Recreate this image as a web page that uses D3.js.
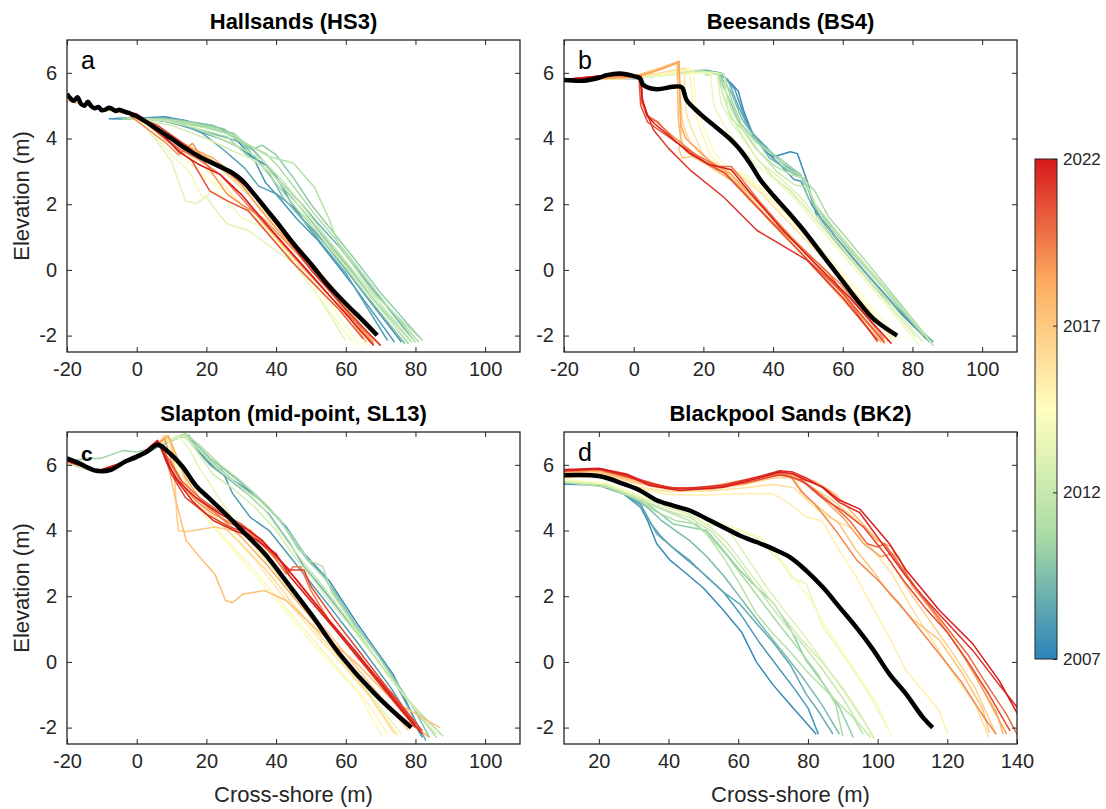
<!DOCTYPE html>
<html lang="en">
<head>
  <meta charset="UTF-8">
  <title>Beach profiles, Start Bay</title>
  <script src="https://d3js.org/d3.v7.min.js"></script>
  <style>
    body { margin: 0; background: #fff; font-family: 'Liberation Sans', Arial, Helvetica, sans-serif; }
    .tick text { fill: #262626; font-size: 20px; font-family: 'Liberation Sans', Arial, sans-serif; }
    .tick line { stroke: #262626; stroke-width: 1; }
    .title { font-size: 22px; font-weight: bold; fill: #000; }
    .axlabel { font-size: 22px; fill: #262626; }
    .letter { font-size: 25px; fill: #000; }
  </style>
</head>
<body>
  <svg width="1106" height="809"></svg>
  <script>
    // survey year of each profile, then the profiles as [cross-shore m, elevation m]
    const hsYears = [2007.3, 2007.8, 2008.3, 2008.8, 2009.4, 2010.0, 2010.6, 2011.2, 2011.8, 2012.5, 2013.2, 2013.9,
                     2014.6, 2015.3, 2016.0, 2016.8, 2017.5, 2018.3, 2019.0, 2019.8, 2020.6, 2021.3, 2022.0, 2009.9, 2010.9];
    const hsProfiles = [
      [[-8,4.6],[0,4.62],[8,4.66],[14,4.55],[20,4.35],[27,4.12],[30,3.8],[33,3.45],[37,3.2],[40,2.85],[44,2.1],[48,1.5],[55,0.75],[64,-0.55],[76,-2.2]],
      [[-7,4.6],[2,4.6],[10,4.5],[18,4.22],[25,3.95],[30,3.7],[34,3.3],[37,2.65],[40,2.3],[46,1.55],[52,0.9],[62,-0.45],[74,-2.2]],
      [[-6,4.62],[5,4.6],[13,4.45],[19,4.15],[25,3.65],[31,3.1],[35,2.55],[40,2.32],[45,1.9],[50,1.2],[60,-0.1],[72,-2.15]],
      [[-5,4.6],[6,4.58],[12,4.42],[18,4.25],[26,4.02],[32,3.8],[37,3.25],[41,2.7],[47,2.05],[52,1.42],[58,0.72],[68,-0.62],[80,-2.2]],
      [[-5,4.62],[4,4.62],[10,4.6],[16,4.5],[22,4.4],[26,4.2],[30,3.9],[35,3.3],[38,2.95],[42,2.2],[47,1.6],[54,0.8],[63,-0.4],[77,-2.25]],
      [[-4,4.6],[8,4.6],[16,4.42],[22,4.3],[28,4.15],[33,3.65],[36,3.8],[40,3.5],[45,2.8],[50,2.0],[56,1.2],[62,0.4],[70,-0.7],[82,-2.15]],
      [[-4,4.6],[6,4.58],[14,4.4],[20,4.22],[26,4.05],[31,3.55],[36,3.15],[41,2.5],[46,1.85],[52,1.15],[60,0.15],[68,-0.9],[79,-2.2]],
      [[-2,4.6],[10,4.55],[20,4.32],[28,4.1],[32,3.82],[38,3.45],[45,3.25],[51,2.52],[55,1.6],[58,0.75],[68,-0.72],[82,-2.15]],
      [[-2,4.62],[8,4.55],[16,4.35],[24,4.0],[30,3.72],[36,3.35],[42,2.7],[48,1.9],[54,1.05],[62,0.0],[72,-1.3],[80,-2.2]],
      [[0,4.6],[10,4.4],[20,4.0],[28,3.6],[33,3.38],[38,3.0],[44,2.35],[50,1.4],[56,0.6],[66,-0.7],[78,-2.2]],
      [[0,4.65],[6,3.9],[10,3.3],[14,2.1],[17,2.02],[20,2.22],[23,1.78],[26,1.4],[32,1.2],[45,0.2],[52,-0.8],[60,-2.15]],
      [[0,4.65],[5,4.1],[10,3.5],[15,3.0],[19,2.2],[22,2.4],[26,2.1],[30,1.6],[36,1.3],[44,0.4],[52,-0.8],[62,-2.2]],
      [[0,4.7],[6,4.2],[11,3.6],[16,3.15],[20,2.8],[26,2.35],[32,1.8],[40,0.95],[48,-0.05],[56,-1.1],[64,-2.3]],
      [[0,4.7],[8,4.0],[16,3.4],[24,2.7],[30,2.0],[38,1.2],[46,0.2],[56,-1.0],[62,-1.6],[66,-2.3]],
      [[0,4.7],[8,4.2],[16,3.6],[24,3.1],[32,2.3],[40,1.4],[50,0.2],[60,-1.2],[67,-2.2]],
      [[-1,4.72],[7,4.3],[15,3.75],[23,3.25],[30,2.7],[37,1.85],[46,0.75],[56,-0.5],[68,-2.2]],
      [[-20,5.15],[-10,4.9],[0,4.7],[8,4.1],[16,3.7],[22,3.3],[30,2.6],[38,1.5],[48,0.3],[58,-0.9],[68,-2.2]],
      [[-2,4.7],[6,4.3],[14,3.8],[22,3.4],[28,2.9],[35,1.9],[44,0.8],[54,-0.4],[66,-2.2]],
      [[-2,4.7],[8,3.9],[12,3.5],[16,3.85],[22,2.9],[26,2.3],[30,2.0],[36,1.6],[46,0.5],[56,-0.7],[68,-2.25]],
      [[0,4.72],[6,4.2],[12,3.7],[18,3.35],[24,2.9],[30,2.2],[38,1.25],[48,0.05],[58,-1.1],[70,-2.3]],
      [[0,4.7],[8,4.0],[16,3.3],[21,2.4],[26,2.1],[32,1.8],[45,0.2],[58,-1.2],[65,-2.1]],
      [[-2,4.75],[6,4.4],[14,3.8],[20,3.3],[26,3.0],[32,2.5],[40,1.4],[50,0.0],[60,-1.2],[70,-2.3]],
      [[-4,4.85],[0,4.75],[6,4.3],[12,3.6],[18,3.2],[24,2.9],[30,2.3],[38,1.3],[48,0.1],[58,-1.1],[68,-2.3]],
      [[-3,4.6],[6,4.6],[14,4.5],[20,4.4],[25,4.3],[29,3.95],[34,3.6],[38,3.1],[42,2.5],[47,1.9],[53,1.1],[60,0.2],[68,-0.9],[78,-2.25]],
      [[-3,4.62],[8,4.58],[16,4.48],[24,4.25],[30,3.9],[34,3.7],[37,3.55],[41,3.1],[46,2.4],[51,1.7],[57,0.95],[64,0.0],[72,-1.1],[81,-2.2]]
    ];
    const hsMean = [[-20,5.36],[-19,5.22],[-18,5.15],[-17,5.26],[-16,5.06],[-15,5.0],[-14,5.12],[-13,4.98],[-12,4.92],[-11,4.96],
      [-10,4.86],[-9,4.88],[-8,4.94],[-7,4.9],[-6,4.84],[-5,4.88],[-4,4.84],[-3,4.8],[-2,4.77],[-1,4.72],[0,4.68],[5,4.35],
      [10.6,3.95],[14,3.7],[18.2,3.44],[23,3.19],[27.8,2.93],[30.2,2.73],[33.5,2.33],[37.4,1.82],[41,1.35],[45,0.8],[50,0.18],
      [54.6,-0.42],[60,-1.03],[65,-1.55],[69,-1.99]];

    const bsYears = [2007.3, 2007.9, 2008.6, 2009.3, 2010.0, 2010.7, 2011.3, 2011.9, 2012.5, 2013.1, 2013.7, 2014.3,
                     2015.0, 2015.7, 2016.4, 2017.1, 2017.8, 2018.5, 2019.2, 2019.9, 2020.6, 2021.3, 2022.0];
    const bsProfiles = [
      [[-20,5.78],[-10,5.9],[0,5.85],[8,5.95],[16,6.05],[21,6.08],[25,5.98],[28,5.68],[30,5.45],[31.5,4.87],[34.4,4.05],[38,3.75],[40,3.44],[45,3.6],[47,3.54],[50,2.63],[52.6,1.61],[59.3,0.7],[69,-0.52],[84,-2.1]],
      [[-20,5.75],[-10,5.85],[0,5.82],[10,5.95],[20,6.05],[25,6.0],[29,5.5],[32,4.6],[35,4.0],[38,3.6],[42,3.2],[46,2.75],[48,2.7],[51,2.0],[56,1.2],[64,0.2],[74,-1.0],[85,-2.2]],
      [[-20,5.8],[-5,5.88],[5,5.9],[15,6.0],[22,6.05],[27,5.8],[30,5.0],[33,4.3],[37,3.85],[42,3.3],[46,3.0],[49,2.75],[52,1.9],[58,1.0],[66,0.0],[76,-1.2],[86,-2.2]],
      [[-20,5.78],[0,5.85],[10,5.95],[18,6.05],[24,6.02],[28,5.4],[31,4.6],[35,4.0],[39,3.4],[44,3.05],[49,2.75],[52,2.0],[57,1.3],[66,0.15],[75,-0.9],[84,-2.05]],
      [[-20,5.8],[0,5.86],[12,5.98],[20,6.08],[24,5.95],[27,5.3],[30,4.55],[34,4.05],[38,3.7],[43,3.3],[48,2.9],[50,2.2],[55,1.5],[62,0.6],[72,-0.6],[83,-2.0]],
      [[-20,5.75],[0,5.84],[14,5.98],[22,6.05],[26,5.9],[28,5.2],[31,4.4],[35,3.9],[40,3.5],[44,3.1],[48,2.85],[52,2.4],[56,1.6],[64,0.6],[74,-0.7],[85,-2.15]],
      [[-20,5.78],[0,5.85],[12,6.0],[19,6.08],[21,5.92],[24,6.02],[26,5.6],[28,4.9],[31,4.3],[35,3.7],[40,3.2],[45,2.9],[49,2.8],[52,2.0],[58,1.2],[66,0.2],[75,-0.9],[86,-2.3]],
      [[-20,5.75],[0,5.85],[14,6.0],[20,6.05],[24,5.98],[26,5.2],[28,4.6],[32,4.2],[36,3.6],[41,3.0],[46,2.6],[50,2.5],[54,1.6],[60,0.9],[68,-0.1],[78,-1.3],[86,-2.3]],
      [[-20,5.8],[0,5.85],[12,5.95],[20,6.02],[26,5.98],[27,4.9],[30,4.3],[35,3.44],[40,2.83],[45,2.4],[50,1.82],[59,0.7],[69,-0.52],[81,-2.04]],
      [[-20,5.78],[0,5.84],[10,5.95],[18,6.0],[24,6.0],[25,5.1],[28,4.5],[32,3.9],[36,3.3],[42,2.8],[48,2.2],[55,1.3],[64,0.15],[74,-1.05],[83,-2.2]],
      [[-20,5.76],[0,5.85],[10,5.92],[18,6.0],[22,5.98],[23,5.0],[26,4.4],[30,3.8],[35,3.2],[40,2.8],[46,2.2],[54,1.2],[62,0.2],[72,-1.0],[82,-2.3]],
      [[-20,5.78],[0,5.86],[10,5.98],[17,6.1],[18,4.9],[20,4.4],[23,3.6],[27,3.1],[32,2.9],[38,2.4],[46,1.5],[55,0.5],[65,-0.7],[76,-2.1]],
      [[-20,5.8],[0,5.85],[10,6.0],[16,6.15],[17,5.0],[19,4.3],[22,3.5],[26,3.05],[30,2.95],[36,2.5],[44,1.65],[53,0.6],[63,-0.6],[75,-2.15]],
      [[-20,5.76],[0,5.84],[10,6.05],[14.5,6.15],[15,4.8],[17,4.2],[20,3.5],[24,3.1],[30,2.9],[36,2.4],[44,1.5],[54,0.4],[64,-0.8],[74,-2.1]],
      [[-20,5.8],[0,5.88],[6,6.1],[10,6.2],[13,6.3],[13.5,5.2],[14,4.5],[16,3.9],[20,3.45],[26,3.1],[32,2.5],[40,1.6],[50,0.5],[60,-0.6],[73,-2.2]],
      [[-20,5.78],[0,5.9],[5,6.05],[10,6.25],[13,6.35],[13.3,5.0],[13.6,4.2],[13,3.65],[14,3.4],[16.5,3.45],[22,3.2],[28,2.8],[36,1.9],[46,0.75],[58,-0.6],[72,-2.2]],
      [[-20,5.8],[0,5.88],[4,6.0],[9,6.15],[12.5,6.3],[12.8,4.6],[13.5,4.0],[15,3.6],[18,3.4],[24,3.0],[30,2.6],[38,1.6],[48,0.5],[60,-0.9],[71,-2.2]],
      [[-20,5.78],[0,5.86],[5,6.0],[10,6.2],[13,6.35],[13.2,5.6],[13.5,4.4],[15,4.0],[18,3.7],[22,3.3],[28,2.9],[36,2.0],[46,0.9],[58,-0.5],[72,-2.25]],
      [[-20,5.8],[-5,5.9],[2,5.85],[2.3,5.1],[4,4.65],[6.6,4.5],[11.4,4.05],[16.2,3.65],[21,3.24],[26.7,2.93],[32.5,2.22],[40.2,1.41],[49.7,0.5],[59.3,-0.42],[71.8,-2.1]],
      [[-20,5.78],[-5,5.92],[2,5.88],[2.5,5.2],[4,4.7],[7,4.5],[12,3.9],[18,3.5],[24,3.15],[28,3.15],[30,2.9],[36,2.1],[45,1.0],[56,-0.1],[70,-2.2]],
      [[-20,5.8],[-5,5.95],[1.5,5.9],[2,5.0],[4,4.5],[8,4.2],[14,3.75],[20,3.3],[26,2.95],[32,2.3],[40,1.4],[50,0.3],[60,-0.7],[72,-2.2]],
      [[-20,5.78],[-5,5.95],[2,5.9],[2.6,5.1],[5.7,4.26],[10,3.7],[16.2,3.04],[25.8,2.22],[35.4,1.2],[49.7,0.3],[60,-0.85],[70,-2.15]],
      [[-20,5.8],[-5,5.96],[2,5.88],[2.4,5.2],[3.8,4.7],[6,4.45],[10,4.1],[16,3.55],[22,3.2],[28,3.05],[33,2.4],[42,1.3],[52,0.2],[62,-0.85],[74,-2.25]]
    ];
    const bsMean = [[-20,5.78],[-14.4,5.76],[-10,5.85],[-7.7,5.93],[-3.9,5.98],[0,5.9],[1.8,5.83],[2.8,5.63],[6.6,5.5],
      [11.4,5.58],[13.8,5.56],[15.2,5.17],[19,4.76],[23,4.4],[25.3,4.2],[28,3.95],[30.6,3.65],[33.4,3.24],[36.3,2.75],
      [40.2,2.25],[44,1.8],[48.8,1.2],[54,0.48],[59.3,-0.25],[64,-0.9],[68.9,-1.5],[75.6,-2.0]];

    const slYears = [2007.3, 2008.0, 2008.7, 2009.5, 2010.3, 2011.0, 2011.8, 2012.6, 2013.4, 2014.2, 2014.9,
                     2015.5, 2016.2, 2016.9, 2017.5, 2018.2, 2018.9, 2019.6, 2020.3, 2021.0, 2021.7, 2022.0];
    const slProfiles = [
      [[-20,6.1],[-11,5.8],[0,6.2],[6,6.55],[10,6.75],[14,6.92],[16,6.7],[20,6.15],[24.4,5.74],[30.6,5.34],[34.7,5.03],[42.9,4.11],[48,3.3],[55.2,2.48],[63.4,1.15],[73.6,-0.38],[81.8,-2.2]],
      [[-20,6.05],[-11,5.78],[0,6.18],[6,6.55],[12,6.85],[15,6.9],[17,6.5],[22,5.95],[24.4,5.85],[27.5,5.13],[32.6,4.4],[38,4.0],[44,3.2],[50,2.4],[56,1.6],[64,0.5],[73,-0.8],[82,-2.3]],
      [[-20,6.1],[-11,5.8],[0,6.2],[6,6.58],[14,6.9],[16,6.6],[21,6.0],[26,5.6],[32,5.1],[38,4.5],[44,3.6],[48,2.9],[52,2.4],[58,1.6],[66,0.5],[75,-0.8],[83,-2.4]],
      [[-20,6.08],[-11,5.8],[0,6.22],[6,6.56],[13,6.88],[16,6.75],[21,6.2],[27,5.7],[33,5.2],[38,4.7],[44,3.9],[49,3.1],[53,2.7],[57,2.1],[63,1.1],[72,-0.2],[80,-1.5],[84,-2.3]],
      [[-20,6.1],[-14,6.2],[-10.5,6.19],[-3.8,6.44],[0,6.39],[3.9,6.49],[8,6.7],[14,6.95],[17,6.55],[22,6.05],[28,5.5],[35,4.95],[41,4.35],[46,3.5],[50,3.0],[54,2.55],[60,1.5],[68,0.4],[76,-0.9],[86,-2.3]],
      [[-20,6.05],[-11,5.75],[0,6.2],[6,6.6],[14,6.95],[18,6.6],[24,6.0],[30,5.5],[38,4.7],[44,3.9],[49.3,3.1],[53.4,2.9],[56,2.1],[60,1.5],[68.5,0.13],[78,-1.2],[88,-2.27]],
      [[-20,6.08],[-11,5.78],[0,6.2],[6,6.6],[13,6.92],[18,6.45],[23,5.9],[30,5.3],[37,4.6],[43,3.7],[48,3.0],[52,2.5],[57,1.8],[64,0.8],[72,-0.4],[80,-1.4],[86,-2.3]],
      [[-20,6.1],[-11,5.8],[0,6.2],[6,6.6],[14,6.9],[18,6.3],[22,5.7],[28,5.25],[34,4.7],[40,4.0],[46,3.1],[50,2.6],[55,1.9],[62,1.0],[70,-0.1],[78,-1.2],[86,-2.2]],
      [[-20,6.06],[-11,5.8],[0,6.2],[6,6.6],[12,6.85],[15,6.5],[18,5.9],[23,5.1],[28,4.3],[34,3.5],[40,2.7],[46,1.9],[54,0.8],[62,-0.3],[70,-1.4],[76,-2.2]],
      [[-20,6.1],[-11,5.8],[0,6.2],[6,6.6],[9,6.85],[12,5.74],[16,4.93],[22,4.11],[28.5,3.3],[36.7,2.28],[44.9,1.26],[53.1,0.23],[63.4,-0.89],[70.5,-2.3]],
      [[-20,6.08],[-11,5.8],[0,6.2],[6,6.6],[9,6.8],[11,6.0],[14,5.2],[19,4.5],[25,3.8],[32,3.0],[40,2.0],[48,1.0],[57,-0.1],[66,-1.2],[72,-2.2]],
      [[-20,6.1],[-11,5.8],[0,6.2],[6,6.6],[9,6.82],[12,6.1],[16,5.3],[21,4.6],[27,3.9],[34,3.1],[42,2.0],[50,1.0],[60,-0.2],[68,-1.2],[75,-2.25]],
      [[-20,6.1],[-11,5.8],[0,6.2],[6,6.6],[9,6.85],[11,6.3],[14,5.5],[18,4.8],[23,4.3],[30,3.6],[38,2.7],[46,1.6],[56,0.4],[66,-0.9],[74,-2.2]],
      [[-20,6.1],[-11,5.8],[0,6.2],[6,6.6],[8,6.9],[10,6.7],[11,5.5],[11.5,4.4],[12,4.0],[14.2,3.96],[22.4,4.11],[30,3.95],[36,3.3],[42,2.6],[50,1.5],[58,0.5],[68,-0.8],[78,-2.1]],
      [[-20,6.1],[-11,5.8],[0,6.2],[6,6.6],[8,6.5],[11,5.0],[14.2,3.7],[18,3.2],[22.4,2.68],[25.5,1.87],[27.5,1.8],[30.6,2.07],[36.7,2.17],[42.9,1.87],[53.1,0.85],[63.4,-0.07],[73.6,-1.19],[87,-2.0]],
      [[-20,6.12],[-11,5.82],[0,6.22],[6,6.62],[9,6.9],[11,6.4],[14,5.6],[18,5.0],[24,4.4],[30,3.8],[37,3.0],[44,2.1],[52,1.1],[60,0.0],[70,-1.2],[80,-2.0],[84,-2.3]],
      [[-20,6.1],[-11,5.8],[0,6.2],[6,6.65],[8,6.8],[10,6.1],[13,5.4],[17,4.9],[22,4.5],[28,4.2],[34,3.8],[40,3.1],[48,2.1],[56,1.1],[66,-0.2],[76,-1.5],[82,-2.2]],
      [[-20,6.1],[-11,5.8],[0,6.2],[6,6.7],[10.1,5.95],[14.2,5.23],[20.3,4.72],[26.5,4.21],[32.6,4.01],[38.8,3.3],[42.9,2.68],[45,2.9],[47,2.9],[50,2.17],[55.2,1.26],[63.4,0.13],[73.6,-0.99],[81.8,-2.1]],
      [[-20,6.15],[-11,5.82],[0,6.22],[6,6.72],[9,6.2],[13,5.5],[18,5.0],[24,4.55],[30,4.2],[36,3.7],[40,3.2],[46,2.5],[52,1.7],[60,0.6],[70,-0.6],[80,-1.9]],
      [[-20,6.1],[-11,5.8],[0,6.2],[5,6.65],[7,6.5],[10,5.7],[14,5.0],[20,4.5],[26,4.15],[32,3.9],[38,3.4],[44,2.8],[48,2.8],[50,2.3],[56,1.4],[64,0.3],[72,-0.8],[82,-2.1]],
      [[-20,6.12],[-11,5.8],[0,6.22],[6,6.7],[8,6.3],[11,5.6],[16,4.9],[22,4.3],[28,4.0],[34,3.75],[40,3.3],[44,2.6],[52,1.6],[60,0.6],[70,-0.7],[80,-2.0]],
      [[-20,6.15],[-11,5.82],[0,6.2],[6,6.75],[9,6.0],[12,5.5],[17,5.0],[24,4.5],[30,4.15],[36,3.7],[42,3.0],[48,2.2],[55,1.3],[63,0.3],[72,-0.9],[82,-2.2]]
    ];
    const slMean = [[-20,6.2],[-16.6,6.05],[-11.5,5.82],[-7.4,5.85],[-3.3,6.1],[0,6.25],[2.9,6.4],[6,6.61],[9,6.4],[13.1,5.95],
      [17.2,5.34],[20.3,5.03],[24.4,4.62],[30.6,3.96],[36.7,3.3],[42.9,2.45],[50,1.46],[58.3,0.23],[68.5,-0.99],[78.8,-2.0]];

    const bkYears = [2007.3, 2007.9, 2008.6, 2009.3, 2010.0, 2010.7, 2011.3, 2011.9, 2012.5, 2012.9, 2013.5, 2014.2,
                     2015.2, 2015.9, 2016.6, 2017.3, 2017.9, 2018.6, 2019.3, 2020.0, 2020.8, 2021.5, 2022.0];
    const bkProfiles = [
      [[10,5.42],[20,5.38],[27,5.12],[32,4.71],[34,4.3],[36.6,3.6],[40.4,3.1],[45,2.7],[50,2.25],[55.5,1.6],[61,0.9],[65.2,0.0],[70,-0.7],[74.8,-1.29],[82.4,-2.2]],
      [[10,5.44],[20,5.4],[27,5.15],[32,4.8],[35,4.2],[38,3.8],[42,3.4],[46,3.05],[51,2.6],[56,2.1],[61,1.4],[66,0.6],[71,-0.1],[76,-0.8],[80,-1.4],[83,-2.2]],
      [[10,5.45],[20,5.4],[28,5.1],[33,4.6],[36.6,3.9],[41,3.5],[46,3.1],[51,2.58],[56,2.1],[60.4,1.77],[65,1.2],[70,0.6],[75,-0.1],[79.5,-0.98],[83,-1.5],[87.2,-2.2]],
      [[10,5.46],[20,5.42],[28,5.15],[34,4.7],[38,4.3],[42,4.0],[46,3.7],[51,3.2],[56,2.6],[61,1.9],[66,1.2],[72,0.4],[78,-0.4],[84,-1.3],[89,-2.2]],
      [[10,5.47],[20,5.44],[31.8,5.0],[41.3,4.2],[46,4.1],[50.9,4.0],[55,3.5],[60.4,2.8],[65,2.3],[70,1.8],[75,1.0],[79.5,0.04],[84,-0.6],[89.1,-1.39],[93,-2.3]],
      [[10,5.48],[20,5.44],[30,5.05],[36,4.6],[42,4.3],[48,4.2],[52,3.8],[57,3.2],[62,2.5],[67,1.8],[72,1.1],[78,0.3],[83,-0.4],[88,-1.3],[90,-2.25]],
      [[10,5.47],[22.2,5.32],[31.8,4.92],[41.3,4.51],[46,4.3],[50.9,3.9],[55.7,3.19],[60.4,2.38],[65,1.5],[70,0.86],[75,0.3],[79.5,-0.27],[84,-0.75],[89.1,-1.29],[93,-1.7],[95.8,-2.2]],
      [[10,5.5],[22,5.38],[32,4.95],[40,4.6],[46,4.4],[52,4.0],[58,3.3],[63,2.6],[68,1.9],[73,1.2],[78,0.6],[84,-0.2],[90,-1.1],[94,-1.8],[98,-2.3]],
      [[10,5.5],[22,5.4],[32,5.0],[40,4.7],[46,4.5],[52,4.1],[57,3.6],[62,2.9],[67,2.2],[72,1.5],[78,0.7],[84,0.0],[90,-0.8],[95,-1.6],[99,-2.35]],
      [[10,5.5],[22,5.42],[32,5.02],[40,4.72],[47,4.6],[53,4.3],[58,3.9],[63,3.1],[68,2.3],[73,1.6],[79,0.8],[85,-0.1],[91,-1.0],[96,-1.8],[99,-2.3]],
      [[10,5.53],[22.2,5.42],[31.8,5.01],[41.3,4.71],[50.9,4.2],[60.4,4.0],[65,3.8],[70,3.29],[71.9,3.1],[75.7,2.54],[79.5,2.39],[84.3,1.06],[89.1,0.35],[93.9,-0.37],[98.6,-1.18],[103.4,-2.1]],
      [[10,5.55],[22,5.45],[32,5.05],[42,4.75],[52,4.3],[60,4.05],[66,3.8],[71,3.3],[75,2.7],[80,2.0],[85,1.1],[90,0.3],[95,-0.5],[100,-1.3],[104,-2.25]],
      [[10,5.6],[20,5.65],[30,5.3],[40,5.1],[50,5.08],[60.4,5.12],[70,5.12],[74.8,4.82],[79.5,4.41],[84,4.3],[89.1,3.39],[93.9,2.58],[98.6,1.66],[103.4,0.75],[108.2,-0.27],[113,-0.88],[117.7,-1.49],[120.1,-2.2]],
      [[10,5.62],[20,5.67],[30,5.35],[40,5.18],[52,5.2],[62,5.3],[70,5.4],[76,5.3],[82,4.7],[86,4.4],[92,4.1],[98,3.5],[104,2.7],[110,1.6],[116,0.6],[122,-0.4],[128,-1.3],[132,-2.3]],
      [[10,5.7],[20,5.75],[30,5.45],[40,5.25],[52,5.25],[62,5.4],[70,5.6],[76,5.6],[80,5.4],[86,5.0],[92,4.5],[98,3.9],[104,3.0],[110,2.0],[116,1.1],[122,0.2],[128,-0.8],[134,-2.2]],
      [[10,5.75],[20,5.8],[30,5.5],[40,5.25],[52,5.25],[62,5.45],[70,5.65],[75,5.7],[79.5,5.02],[84.3,4.61],[89,4.2],[93.9,3.39],[98.6,2.78],[103.4,2.07],[110,1.3],[117.7,0.67],[124,-0.3],[130,-1.4],[132,-2.15]],
      [[10,5.78],[20,5.82],[30,5.55],[40,5.3],[52,5.3],[62,5.5],[70,5.7],[76,5.7],[82,5.5],[88,5.1],[94,4.4],[100,3.7],[104,3.5],[106,3.0],[112,2.1],[118,1.2],[124,0.3],[130,-0.8],[134,-1.5],[136,-2.2]],
      [[10,5.8],[20,5.85],[30,5.55],[40,5.28],[50,5.3],[62,5.55],[72,5.8],[78,5.6],[84,5.0],[90,4.4],[96,3.6],[101,3.2],[104,3.3],[106,3.2],[110,2.3],[116,1.5],[122,0.6],[128,-0.4],[134,-1.6],[137,-2.2]],
      [[10,5.8],[20,5.85],[30,5.6],[40,5.3],[52,5.3],[62,5.5],[70,5.7],[75,5.65],[78,5.2],[82,4.8],[88,4.0],[94,3.1],[100,2.5],[106,1.8],[112,1.0],[118,0.2],[124,-0.6],[130,-1.6],[134,-2.2]],
      [[10,5.82],[20,5.86],[30,5.58],[40,5.28],[52,5.3],[62,5.5],[72,5.75],[76,5.6],[80,5.4],[86,4.9],[92,4.3],[97,3.6],[100,3.5],[102,3.6],[106,3.0],[112,2.1],[118,1.3],[126,0.2],[132,-0.8],[137,-1.6],[140,-2.2]],
      [[10,5.83],[20,5.87],[30,5.6],[40,5.3],[52,5.28],[62,5.45],[72,5.7],[78,5.55],[84,5.0],[90,4.6],[96,4.1],[102,3.3],[108,2.4],[114,1.6],[120,0.9],[126,0.0],[132,-1.0],[138,-2.1]],
      [[10,5.86],[20,5.9],[28,5.72],[34.6,5.42],[43.2,5.27],[55.7,5.38],[65.2,5.62],[71.9,5.82],[75.7,5.78],[79.5,5.6],[84.3,5.3],[89.1,4.85],[94.8,4.55],[98.6,4.0],[103.4,3.3],[108.2,2.6],[113,2.0],[117.7,1.45],[127.3,0.35],[134.9,-0.7],[140.2,-1.4]],
      [[10,5.83],[20.3,5.88],[28,5.68],[34.6,5.37],[43.2,5.22],[55.7,5.32],[65.2,5.58],[71.9,5.78],[75.7,5.73],[79.5,5.53],[84.3,5.32],[89.1,4.92],[94.8,4.66],[98.6,4.2],[103.4,3.6],[108.2,2.79],[113,2.18],[117.7,1.57],[127.3,0.55],[134.9,-0.57],[140.2,-1.59]]
    ];
    const bkMean = [[10,5.68],[20.3,5.65],[27,5.42],[31.8,5.22],[36.6,4.92],[41.3,4.76],[46.1,4.61],[50.9,4.36],[55.7,4.1],
      [60.4,3.85],[65.2,3.65],[70,3.44],[74.8,3.19],[79.5,2.78],[84.3,2.27],[89.1,1.66],[93.9,1.05],[98.6,0.39],[103.4,-0.37],
      [108.2,-0.98],[113,-1.69],[115.8,-2.0]];

    const ticksNear = [-20, 0, 20, 40, 60, 80, 100];
    const ticksBK = [20, 40, 60, 80, 100, 120, 140];
    const elevTicks = [-2, 0, 2, 4, 6];
    const yearTicks = [2007, 2012, 2017, 2022];

    // ColorBrewer Spectral (5), blue for 2007 through yellow to red for 2022
    const color = d3.scaleLinear()
      .domain([2007, 2010.75, 2014.5, 2018.25, 2022])
      .range(["#2b83ba", "#abdda4", "#ffffbf", "#fdae61", "#d7191c"]);

    const panels = [
      { title: "Hallsands (HS3)", letter: "a", years: hsYears, profiles: hsProfiles, mean: hsMean, xd: [-20, 110], xt: ticksNear, left: 67, top: 40, ylab: true, xlab: false },
      { title: "Beesands (BS4)", letter: "b", years: bsYears, profiles: bsProfiles, mean: bsMean, xd: [-20, 110], xt: ticksNear, left: 564, top: 40, ylab: false, xlab: false },
      { title: "Slapton (mid-point, SL13)", letter: "c", years: slYears, profiles: slProfiles, mean: slMean, xd: [-20, 110], xt: ticksNear, left: 67, top: 432, ylab: true, xlab: true },
      { title: "Blackpool Sands (BK2)", letter: "d", years: bkYears, profiles: bkProfiles, mean: bkMean, xd: [10, 140], xt: ticksBK, left: 564, top: 432, ylab: false, xlab: true }
    ];
    const pw = 453, ph = 312;

    const svg = d3.select("svg");
    const defs = svg.append("defs");

    panels.forEach((p, i) => {
      const x = d3.scaleLinear().domain(p.xd).range([0, pw]);
      const y = d3.scaleLinear().domain([-2.5, 7]).range([ph, 0]);
      const g = svg.append("g").attr("transform", `translate(${p.left},${p.top})`);

      defs.append("clipPath").attr("id", "clip" + i)
        .append("rect").attr("width", pw).attr("height", ph);

      const line = d3.line().x(d => x(d[0])).y(d => y(d[1]));
      const plot = g.append("g").attr("clip-path", `url(#clip${i})`);

      // draw oldest first so the recent surveys sit on top
      const order = d3.range(p.profiles.length).sort((a, b) => p.years[a] - p.years[b]);
      plot.selectAll("path.profile")
        .data(order)
        .join("path")
        .attr("class", "profile")
        .attr("d", j => line(p.profiles[j]))
        .attr("fill", "none")
        .attr("stroke", j => color(p.years[j]))
        .attr("stroke-width", 1.5)
        .attr("stroke-linejoin", "round");

      plot.append("path")
        .attr("d", line.curve(d3.curveCatmullRom.alpha(0.5))(p.mean))
        .attr("fill", "none")
        .attr("stroke", "#000")
        .attr("stroke-width", 4.5)
        .attr("stroke-linejoin", "round");

      // axes, ticks pointing inward on all four sides
      const fmt = d => String(d);
      g.append("g").attr("transform", `translate(0,${ph})`)
        .call(d3.axisBottom(x).tickValues(p.xt).tickSize(-5).tickPadding(10).tickFormat(fmt));
      g.append("g")
        .call(d3.axisTop(x).tickValues(p.xt).tickSize(-5).tickFormat(""));
      g.append("g")
        .call(d3.axisLeft(y).tickValues(elevTicks).tickSize(-5).tickPadding(10).tickFormat(fmt));
      g.append("g").attr("transform", `translate(${pw},0)`)
        .call(d3.axisRight(y).tickValues(elevTicks).tickSize(-5).tickFormat(""));
      g.selectAll(".domain").remove();

      g.append("rect")
        .attr("width", pw).attr("height", ph)
        .attr("fill", "none").attr("stroke", "#262626").attr("stroke-width", 1.3);

      g.append("text").attr("class", "title")
        .attr("x", pw / 2).attr("y", -11).attr("text-anchor", "middle")
        .text(p.title);

      g.append("text").attr("class", "letter")
        .attr("x", 14).attr("y", 29)
        .style("font-weight", p.letter === "c" ? "bold" : "normal")
        .style("font-size", p.letter === "c" ? "21px" : null)
        .text(p.letter);

      if (p.ylab) {
        g.append("text").attr("class", "axlabel")
          .attr("transform", `translate(-38,${ph / 2}) rotate(-90)`)
          .attr("text-anchor", "middle")
          .text("Elevation (m)");
      }
      if (p.xlab) {
        g.append("text").attr("class", "axlabel")
          .attr("x", pw / 2).attr("y", ph + 58).attr("text-anchor", "middle")
          .text("Cross-shore (m)");
      }
    });

    // colour bar
    const cbX = 1035, cbW = 22, cbTop = 159, cbBot = 659;
    const cy = d3.scaleLinear().domain([2007, 2022]).range([cbBot, cbTop]);
    const grad = defs.append("linearGradient").attr("id", "cbgrad")
      .attr("x1", 0).attr("y1", 1).attr("x2", 0).attr("y2", 0);
    grad.selectAll("stop")
      .data(d3.range(0, 31))
      .join("stop")
      .attr("offset", d => d / 30)
      .attr("stop-color", d => color(2007 + d / 2));
    svg.append("rect")
      .attr("x", cbX).attr("y", cbTop).attr("width", cbW).attr("height", cbBot - cbTop)
      .attr("fill", "url(#cbgrad)").attr("stroke", "#262626").attr("stroke-width", 1);
    svg.append("g").attr("transform", `translate(${cbX + cbW},0)`)
      .call(d3.axisRight(cy).tickValues(yearTicks).tickSize(-4).tickPadding(6).tickFormat(d => String(d)))
      .call(g => g.select(".domain").remove())
      .selectAll("text").style("font-size", "17px");
  </script>
</body>
</html>
